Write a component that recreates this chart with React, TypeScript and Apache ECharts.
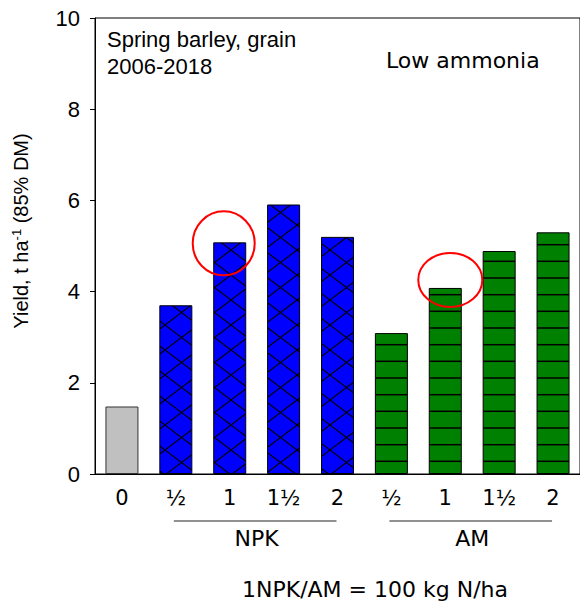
import { useEffect, useRef } from 'react';
import * as echarts from 'echarts';

const categories = ['0', '½', '1', '1½', '2', '½', '1', '1½', '2'];
const controlYield = [1.48];
const npkYield = [3.7, 5.08, 5.91, 5.2];
const amYield = [3.09, 4.08, 4.89, 5.3];
const groupNames = ['NPK', 'AM'];
const yTicks = [0, 2, 4, 6, 8, 10];
const circledCategories = [2, 6];
const titleLines = ['Spring barley, grain', '2006-2018'];
const conditionLabel = 'Low ammonia';
const footnote = '1NPK/AM = 100 kg N/ha';

const circleShapes = [
  { dx: -6, dy: 1, rx: 31, ry: 32 },
  { dx: 5, dy: -8, rx: 32, ry: 27 },
];

const ARIAL = '"Liberation Sans", Arial, sans-serif';
const GEO = '"DejaVu Sans", sans-serif';
const BAR_W = 33;
const HATCH_W = 33;
const HATCH_H = 25;

function makeCrossHatch(): HTMLCanvasElement {
  const w = HATCH_W;
  const h = HATCH_H;
  const c = document.createElement('canvas');
  c.width = w;
  c.height = h;
  const g = c.getContext('2d')!;
  g.fillStyle = '#0000ff';
  g.fillRect(0, 0, w, h);
  g.strokeStyle = '#000';
  g.lineWidth = 1.1;
  g.beginPath();
  for (let k = -1; k <= 1; k++) {
    g.moveTo(k * w, 0);
    g.lineTo(k * w + w, h);
    g.moveTo(k * w + w, 0);
    g.lineTo(k * w, h);
  }
  g.stroke();
  return c;
}

function makeHLines(): HTMLCanvasElement {
  const w = 8;
  const h = 50;
  const c = document.createElement('canvas');
  c.width = w;
  c.height = h;
  const g = c.getContext('2d')!;
  g.fillStyle = '#008000';
  g.fillRect(0, 0, w, h);
  g.fillStyle = '#000';
  [11.3, 28.0, 44.7].forEach((y) => g.fillRect(0, y - 0.75, w, 1.5));
  return c;
}

export default function App() {
  const ref = useRef<HTMLDivElement>(null);

  useEffect(() => {
    if (!ref.current) return;
    const chart = echarts.init(ref.current, null, { renderer: 'svg' });

    chart.setOption({
      animation: false,
      grid: {
        left: 95,
        top: 18,
        width: 488,
        height: 456,
        show: true,
        borderColor: '#000',
        borderWidth: 1,
        backgroundColor: 'transparent',
      },
      xAxis: {
        type: 'category',
        data: categories,
        axisLine: { lineStyle: { color: '#000', width: 1 } },
        axisTick: { show: false },
        axisLabel: { color: '#000', fontFamily: GEO, fontSize: 21, margin: 13 },
      },
      yAxis: {
        type: 'value',
        min: yTicks[0],
        max: yTicks[yTicks.length - 1],
        interval: yTicks[1] - yTicks[0],
        axisLine: { show: true, lineStyle: { color: '#000', width: 1 } },
        axisTick: { show: true, length: 5, lineStyle: { color: '#000' } },
        axisLabel: { color: '#000', fontFamily: ARIAL, fontSize: 22, margin: 15 },
        splitLine: { show: false },
      },
      series: [{ type: 'bar', data: [], barWidth: BAR_W }],
    });

    const px = (i: number, v: number) => chart.convertToPixel({ gridIndex: 0 } as any, [i, v]) as number[];

    const hatchCanvas = makeCrossHatch();
    const green = { image: makeHLines(), repeat: 'repeat', imageWidth: 8, imageHeight: 50 } as any;
    const blueAt = (i: number) =>
      ({
        image: hatchCanvas,
        repeat: 'repeat',
        imageWidth: HATCH_W,
        imageHeight: HATCH_H,
        x: px(i, 0)[0] - BAR_W / 2,
        y: 12.5,
      }) as any;

    const data = [
      ...controlYield.map((v) => ({ value: v, itemStyle: { color: '#c0c0c0', borderColor: '#333', borderWidth: 1 } })),
      ...npkYield.map((v, k) => ({
        value: v,
        itemStyle: { color: blueAt(controlYield.length + k), borderColor: '#000', borderWidth: 1 },
      })),
      ...amYield.map((v) => ({ value: v, itemStyle: { color: green, borderColor: '#000', borderWidth: 1 } })),
    ];
    const allValues = [...controlYield, ...npkYield, ...amYield];

    const graphics: any[] = [];

    graphics.push({
      type: 'text',
      x: 21,
      y: 231,
      rotation: Math.PI / 2,
      style: {
        text: '{a|Yield, t ha}{s|-1}{a| (85% DM)}',
        align: 'center',
        verticalAlign: 'middle',
        rich: {
          a: { fontFamily: ARIAL, fontSize: 20, lineHeight: 22, fill: '#000' },
          s: { fontFamily: ARIAL, fontSize: 13, lineHeight: 15, verticalAlign: 'top', fill: '#000' },
        },
      },
    });

    graphics.push({
      type: 'text',
      x: 107,
      y: 26,
      style: {
        text: titleLines.join('\n'),
        font: `22px ${ARIAL}`,
        lineHeight: 27,
        fill: '#000',
        align: 'left',
        verticalAlign: 'top',
      },
    });

    graphics.push({
      type: 'text',
      x: 386,
      y: 60,
      style: { text: conditionLabel, font: `22px ${GEO}`, fill: '#000', align: 'left', verticalAlign: 'middle' },
    });

    const groups = [
      { name: groupNames[0], from: controlYield.length, to: controlYield.length + npkYield.length - 1 },
      {
        name: groupNames[1],
        from: controlYield.length + npkYield.length,
        to: controlYield.length + npkYield.length + amYield.length - 1,
      },
    ];
    groups.forEach((g) => {
      const a = px(g.from, 0);
      const b = px(g.to, 0);
      graphics.push({
        type: 'line',
        shape: { x1: a[0] - 2, y1: 521, x2: b[0] - 1, y2: 521 },
        style: { stroke: '#222', lineWidth: 1 },
      });
      graphics.push({
        type: 'text',
        x: (a[0] + b[0]) / 2,
        y: 538,
        style: { text: g.name, font: `22px ${GEO}`, fill: '#000', align: 'center', verticalAlign: 'middle' },
      });
    });

    graphics.push({
      type: 'text',
      x: 375,
      y: 589,
      style: { text: footnote, font: `22px ${GEO}`, fill: '#000', align: 'center', verticalAlign: 'middle' },
    });

    circledCategories.forEach((ci, k) => {
      const p = px(ci, allValues[ci]);
      const c = circleShapes[k];
      graphics.push({
        type: 'ellipse',
        shape: { cx: p[0] + c.dx, cy: p[1] + c.dy, rx: c.rx, ry: c.ry },
        style: { fill: 'none', stroke: '#ff0000', lineWidth: 2 },
        z: 100,
      });
    });

    chart.setOption({ series: [{ type: 'bar', data, barWidth: BAR_W }], graphic: graphics });

    return () => chart.dispose();
  }, []);

  return <div ref={ref} style={{ position: 'absolute', left: 0, top: 0, width: 580, height: 603 }} />;
}
